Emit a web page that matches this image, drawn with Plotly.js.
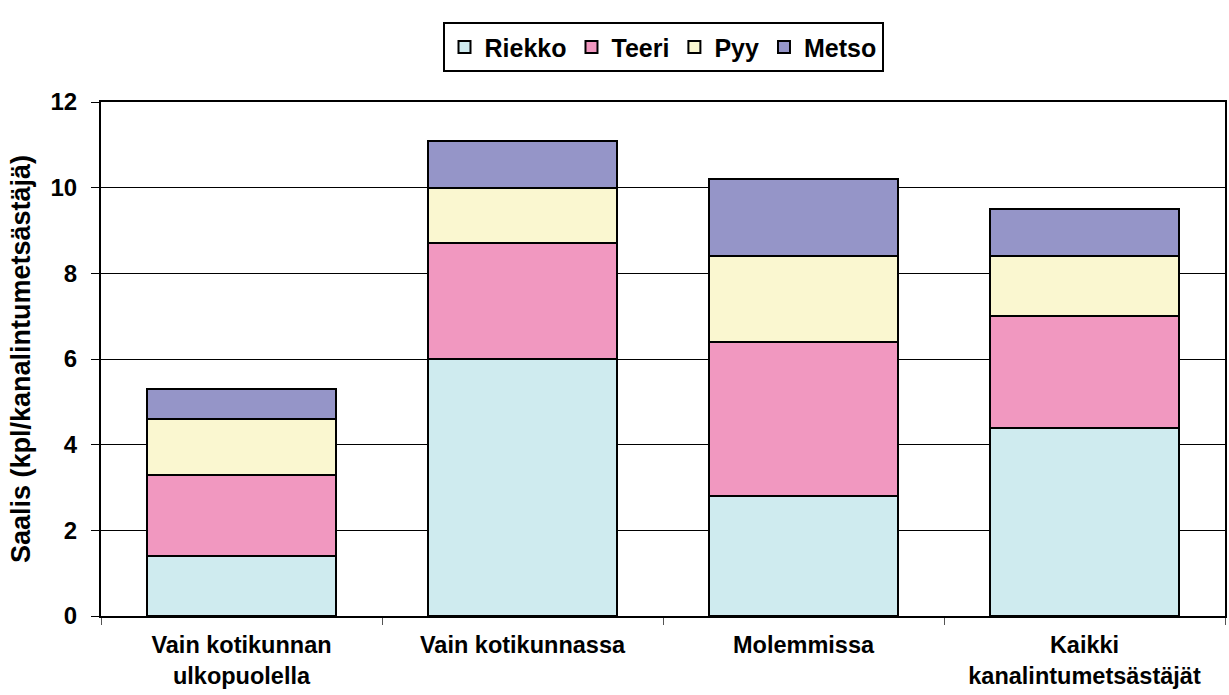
<!DOCTYPE html>
<html>
<head>
<meta charset="utf-8">
<script src="https://cdn.plot.ly/plotly-3.0.1.min.js"></script>
<style>html,body{margin:0;padding:0;background:#fff;}#chart{width:1229px;height:695px;}</style>
</head>
<body>
<div id="chart"></div>
<script>
const categories = ["Vain kotikunnan<br>ulkopuolella", "Vain kotikunnassa", "Molemmissa", "Kaikki<br>kanalintumetsästäjät"];
const riekko = [1.4, 6.0, 2.8, 4.4];
const teeri = [1.9, 2.7, 3.6, 2.6];
const pyy = [1.3, 1.3, 2.0, 1.4];
const metso = [0.7, 1.1, 1.8, 1.1];
const seriesNames = ["Riekko", "Teeri", "Pyy", "Metso"];
const seriesColors = ["#CFEBEF", "#F198C0", "#FAF7D0", "#9595C8"];
const yTicks = [0, 2, 4, 6, 8, 10, 12];

const values = [riekko, teeri, pyy, metso];
const traces = values.map((v, i) => ({
  type: "bar",
  name: seriesNames[i],
  x: categories,
  y: v,
  marker: {color: seriesColors[i], line: {color: "#000", width: 2}},
  hoverinfo: "skip"
}));

const fam = "Liberation Sans, Arial, sans-serif";
const layout = {
  width: 1229, height: 695,
  margin: {l: 101, r: 4, t: 102, b: 79},
  barmode: "stack",
  bargap: 0.33,
  paper_bgcolor: "#fff",
  plot_bgcolor: "#fff",
  font: {family: fam, color: "#000"},
  showlegend: true,
  legend: {
    orientation: "h",
    x: 0.5, xanchor: "center",
    y: 1.155, yanchor: "top",
    bordercolor: "#000", borderwidth: 2,
    font: {family: fam, size: 25, color: "#000", weight: "bold"},
    itemwidth: 30,
    traceorder: "normal"
  },
  xaxis: {
    type: "category",
    tickson: "boundaries",
    ticks: "outside", ticklen: 7, tickcolor: "#555", tickwidth: 1,
    ticklabelstandoff: 7,
    showline: true, linecolor: "#000", linewidth: 2, mirror: true,
    showgrid: false,
    tickfont: {family: fam, size: 23.5, color: "#000", weight: "bold"},
    fixedrange: true
  },
  yaxis: {
    range: [0, 12],
    tickvals: yTicks,
    ticks: "outside", ticklen: 8, tickcolor: "#000", tickwidth: 1,
    ticklabelstandoff: 9,
    showline: true, linecolor: "#000", linewidth: 2, mirror: true,
    showgrid: true, gridcolor: "#000", gridwidth: 1,
    zeroline: false,
    tickfont: {family: fam, size: 24, color: "#000", weight: "bold"},
    title: {text: "Saalis (kpl/kanalintumetsästäjä)", font: {family: fam, size: 27, color: "#000", weight: "bold"}, standoff: 12},
    fixedrange: true
  }
};

Plotly.newPlot("chart", traces, layout, {staticPlot: true, displayModeBar: false});
</script>
</body>
</html>
